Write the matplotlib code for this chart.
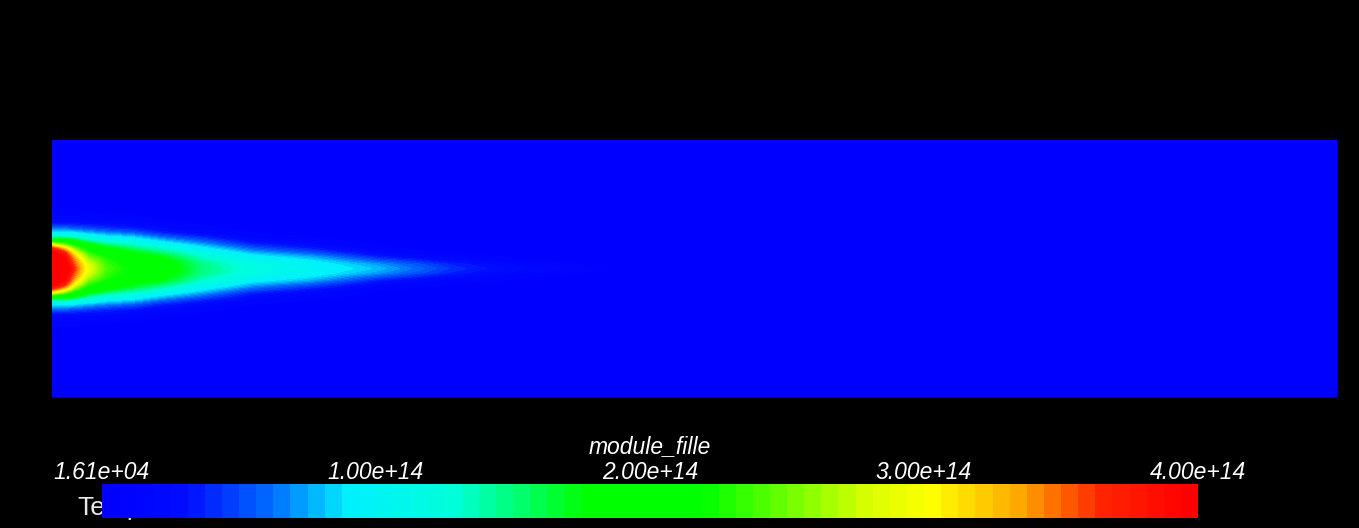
import numpy as np
import matplotlib
matplotlib.use("Agg")
import matplotlib.pyplot as plt
from matplotlib.colors import LinearSegmentedColormap, Normalize
from matplotlib.cm import ScalarMappable

# ----- field (units of 1e14), channel is 5 x 1
# stations along the channel (from the inlet on the left)
x_nodes = [0.0, 0.05, 0.09, 0.14, 0.21, 0.31, 0.43, 0.58, 0.78, 1.01,
           1.28, 1.56, 1.83, 2.10, 2.41, 5.0]
# distance from the centreline (profile is symmetric)
y_offsets = [0.0, 0.016, 0.031, 0.047, 0.062, 0.078, 0.093, 0.109, 0.125,
             0.140, 0.156, 0.179, 0.210, 0.272, 0.5]
# one profile per station, values at y_offsets
profiles = [
    [4.4, 4.4, 4.3, 4.2, 4.0, 3.7, 3.0, 1.9, 1.3, 0.9, 0.6, 0.25, 0.08, 0.01, 0],
    [4.2, 4.1, 4.0, 3.9, 3.7, 3.2, 2.5, 1.9, 1.3, 0.9, 0.6, 0.25, 0.08, 0.01, 0],
    [3.6, 3.5, 3.4, 3.2, 2.9, 2.5, 2.1, 1.7, 1.2, 0.85, 0.55, 0.25, 0.08, 0.01, 0],
    [2.9, 2.85, 2.7, 2.5, 2.3, 2.1, 1.8, 1.4, 1.05, 0.75, 0.5, 0.22, 0.07, 0.01, 0],
    [2.4, 2.35, 2.3, 2.2, 2.0, 1.8, 1.5, 1.2, 0.9, 0.65, 0.42, 0.2, 0.06, 0.01, 0],
    [2.15, 2.1, 2.05, 1.9, 1.75, 1.55, 1.3, 1.05, 0.8, 0.55, 0.35, 0.16, 0.05, 0.01, 0],
    [1.95, 1.9, 1.85, 1.7, 1.5, 1.3, 1.05, 0.8, 0.55, 0.35, 0.2, 0.08, 0.02, 0, 0],
    [1.5, 1.48, 1.4, 1.3, 1.15, 0.95, 0.75, 0.55, 0.35, 0.2, 0.1, 0.04, 0.01, 0, 0],
    [1.2, 1.17, 1.08, 0.94, 0.76, 0.56, 0.38, 0.24, 0.13, 0.06, 0.03, 0.01, 0, 0, 0],
    [1.02, 0.98, 0.88, 0.72, 0.52, 0.35, 0.2, 0.1, 0.05, 0.02, 0, 0, 0, 0, 0],
    [0.78, 0.7, 0.52, 0.32, 0.18, 0.08, 0.03, 0.01, 0, 0, 0, 0, 0, 0, 0],
    [0.42, 0.36, 0.24, 0.12, 0.05, 0.02, 0, 0, 0, 0, 0, 0, 0, 0, 0],
    [0.2, 0.15, 0.08, 0.03, 0.01, 0, 0, 0, 0, 0, 0, 0, 0, 0, 0],
    [0.08, 0.05, 0.02, 0.01, 0, 0, 0, 0, 0, 0, 0, 0, 0, 0, 0],
    [0.02, 0.01, 0, 0, 0, 0, 0, 0, 0, 0, 0, 0, 0, 0, 0],
    [0, 0, 0, 0, 0, 0, 0, 0, 0, 0, 0, 0, 0, 0, 0],
]
scale = 1e14

v_min, v_max = 1.61e4, 4.0e14
tick_values = [1.61e4, 1e14, 2e14, 3e14, 4e14]
tick_labels = ["1.61e+04", "1.00e+14", "2.00e+14", "3.00e+14", "4.00e+14"]
field_name = "module_fille"

# ----- mirror the half profiles about the centreline
off = np.array(y_offsets)
P = np.array(profiles) * scale
y = np.concatenate([-off[::-1], off[1:]])
Z = np.concatenate([P[:, ::-1], P[:, 1:]], axis=1).T   # (ny, nx)
x = np.array(x_nodes)

# paraview-ish rainbow, quantised
nodes = [(0.00, (0, 0, 255)), (0.07, (0, 12, 255)), (0.15, (0, 110, 255)),
         (0.22, (0, 240, 255)), (0.32, (0, 255, 215)), (0.44, (0, 255, 0)),
         (0.55, (0, 255, 0)), (0.70, (215, 255, 0)), (0.76, (255, 255, 0)),
         (0.84, (255, 170, 0)), (0.92, (255, 35, 0)), (1.00, (255, 0, 0))]
cmap = LinearSegmentedColormap.from_list(
    "pv", [(t, tuple(c / 255 for c in rgb)) for t, rgb in nodes], N=64)
cmap.set_under(cmap(0.0))
cmap.set_over(cmap(1.0))
norm = Normalize(v_min, v_max)

W, H = 1359, 528
fig = plt.figure(figsize=(W / 100, H / 100), dpi=100, facecolor="black")

ax = fig.add_axes([52 / W, (H - 397) / H, 1285 / W, 257 / H])
ax.contourf(x, y, Z, levels=np.linspace(v_min, v_max, 65), cmap=cmap,
            norm=norm, extend="both")
ax.set_xlim(0, 5.0)
ax.set_ylim(-0.5, 0.5)
ax.set_axis_off()

# text hidden behind the colour bar
fig.text(77 / W, (H - 515) / H, "Temps", color="#e8e8e8", fontsize=19,
         family="Liberation Sans", va="baseline", ha="left", zorder=-1)

cax = fig.add_axes([102 / W, (H - 518) / H, 1096 / W, 34 / H], zorder=5)
cb = fig.colorbar(ScalarMappable(norm=norm, cmap=cmap), cax=cax,
                  orientation="horizontal")
cb.outline.set_visible(False)
cax.set_xticks([])

lab_font = dict(color="white", fontsize=16.5, style="italic",
                family="Liberation Sans")
for v, lab in zip(tick_values, tick_labels):
    xf = (102 + (v - v_min) / (v_max - v_min) * 1096) / W
    fig.text(xf, (H - 479) / H, lab, ha="center", va="baseline", **lab_font)
fig.text(650 / W, (H - 453) / H, field_name, ha="center", va="baseline",
         **lab_font)

fig.savefig("out.png", dpi=100, facecolor="black")
